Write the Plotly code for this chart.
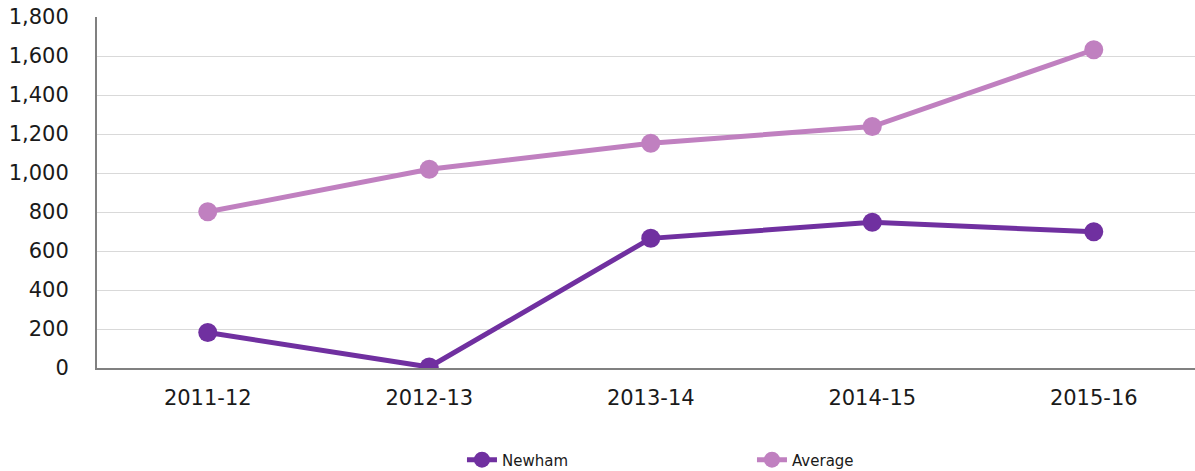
import plotly.graph_objects as go

categories = ["2011-12", "2012-13", "2013-14", "2014-15", "2015-16"]
newham = [182, 5, 665, 747, 699]
average = [801, 1019, 1153, 1238, 1632]
y_ticks = [0, 200, 400, 600, 800, 1000, 1200, 1400, 1600, 1800]

fig = go.Figure()
fig.add_trace(go.Scatter(x=categories, y=newham, name="Newham", mode="lines+markers",
                         line=dict(color="#7030A0", width=5),
                         marker=dict(size=19, color="#7030A0")))
fig.add_trace(go.Scatter(x=categories, y=average, name="Average", mode="lines+markers",
                         line=dict(color="#C080C0", width=5),
                         marker=dict(size=19, color="#C080C0")))

fig.update_layout(
    width=1195, height=471,
    margin=dict(l=97, r=0, t=17, b=103, autoexpand=False),
    plot_bgcolor="white", paper_bgcolor="white",
    font=dict(family="DejaVu Sans", size=21, color="#1a1a1a"),
    xaxis=dict(type="category", range=[-0.5, 4.457], showgrid=False,
               showline=True, linecolor="#808080", linewidth=2,
               ticks="", tickfont=dict(size=21), ticklabelstandoff=10,
               automargin=False),
    yaxis=dict(range=[0, 1800], tickvals=y_ticks, tickformat=",",
               showgrid=True, gridcolor="#d9d9d9", gridwidth=1,
               showline=True, linecolor="#808080", linewidth=2,
               ticks="", tickfont=dict(size=21), zeroline=False,
               ticklabelstandoff=22, automargin=False),
    legend=dict(orientation="h", x=0.3324, xanchor="left", y=-0.262, yanchor="middle",
                font=dict(size=15), entrywidth=245, entrywidthmode="pixels"),
    showlegend=True,
)

fig.write_html("out.html", config={"displayModeBar": False},
               post_script="document.body.style.margin='0';")
